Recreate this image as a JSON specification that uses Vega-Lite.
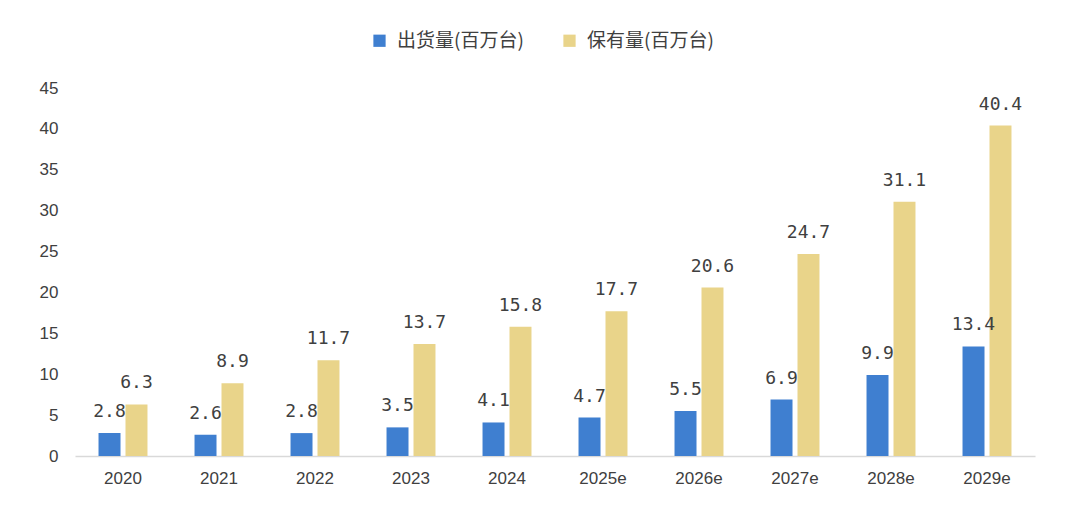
{
  "$schema": "https://vega.github.io/schema/vega-lite/v6.json",
  "width": 960,
  "height": 368,
  "autosize": {"type": "none"},
  "padding": {"left": 75, "top": 88, "right": 48, "bottom": 51},
  "background": "white",
  "data": {
    "values": [
      {"year": "2020", "series": "出货量(百万台)", "value": 2.8},
      {"year": "2020", "series": "保有量(百万台)", "value": 6.3},
      {"year": "2021", "series": "出货量(百万台)", "value": 2.6},
      {"year": "2021", "series": "保有量(百万台)", "value": 8.9},
      {"year": "2022", "series": "出货量(百万台)", "value": 2.8},
      {"year": "2022", "series": "保有量(百万台)", "value": 11.7},
      {"year": "2023", "series": "出货量(百万台)", "value": 3.5},
      {"year": "2023", "series": "保有量(百万台)", "value": 13.7},
      {"year": "2024", "series": "出货量(百万台)", "value": 4.1},
      {"year": "2024", "series": "保有量(百万台)", "value": 15.8},
      {"year": "2025e", "series": "出货量(百万台)", "value": 4.7},
      {"year": "2025e", "series": "保有量(百万台)", "value": 17.7},
      {"year": "2026e", "series": "出货量(百万台)", "value": 5.5},
      {"year": "2026e", "series": "保有量(百万台)", "value": 20.6},
      {"year": "2027e", "series": "出货量(百万台)", "value": 6.9},
      {"year": "2027e", "series": "保有量(百万台)", "value": 24.7},
      {"year": "2028e", "series": "出货量(百万台)", "value": 9.9},
      {"year": "2028e", "series": "保有量(百万台)", "value": 31.1},
      {"year": "2029e", "series": "出货量(百万台)", "value": 13.4},
      {"year": "2029e", "series": "保有量(百万台)", "value": 40.4}
    ]
  },
  "encoding": {
    "x": {
      "field": "year",
      "type": "nominal",
      "sort": null,
      "scale": {"paddingInner": 0.49, "paddingOuter": 0.245},
      "axis": {
        "title": null,
        "labelAngle": 0,
        "labelFont": "Liberation Sans",
        "labelFontSize": 17,
        "labelColor": "#404040",
        "labelPadding": 14,
        "ticks": false,
        "domainColor": "#d9d9d9",
        "domainWidth": 1.5
      }
    },
    "xOffset": {
      "field": "series",
      "type": "nominal",
      "sort": ["出货量(百万台)", "保有量(百万台)"],
      "scale": {"paddingInner": 0.185, "paddingOuter": 0}
    },
    "y": {
      "field": "value",
      "type": "quantitative",
      "scale": {"domain": [0, 45]},
      "axis": {
        "title": null,
        "values": [0, 5, 10, 15, 20, 25, 30, 35, 40, 45],
        "grid": false,
        "domain": false,
        "ticks": false,
        "labelFont": "Liberation Sans",
        "labelFontSize": 17,
        "labelColor": "#404040",
        "labelPadding": 17
      }
    }
  },
  "layer": [
    {
      "mark": {"type": "bar"},
      "encoding": {
        "color": {
          "field": "series",
          "type": "nominal",
          "sort": ["出货量(百万台)", "保有量(百万台)"],
          "scale": {
            "domain": ["出货量(百万台)", "保有量(百万台)"],
            "range": ["#3f7fd0", "#e9d48a"]
          },
          "legend": {
            "title": null,
            "orient": "none",
            "direction": "horizontal",
            "legendX": 295,
            "legendY": -57,
            "symbolType": "square",
            "symbolSize": 150,
            "symbolStrokeWidth": 0,
            "labelFont": "Noto Sans CJK SC",
            "labelFontSize": 19,
            "labelColor": "#404040",
            "labelLimit": 300,
            "columnPadding": 36,
            "labelOffset": 8
          }
        }
      }
    },
    {
      "mark": {
        "type": "text",
        "baseline": "bottom",
        "dy": -12,
        "font": "DejaVu Sans Mono",
        "fontSize": 18,
        "color": "#404040"
      },
      "encoding": {
        "text": {"field": "value", "type": "quantitative", "format": ".1f"}
      }
    }
  ],
  "config": {
    "view": {"stroke": null}
  }
}
